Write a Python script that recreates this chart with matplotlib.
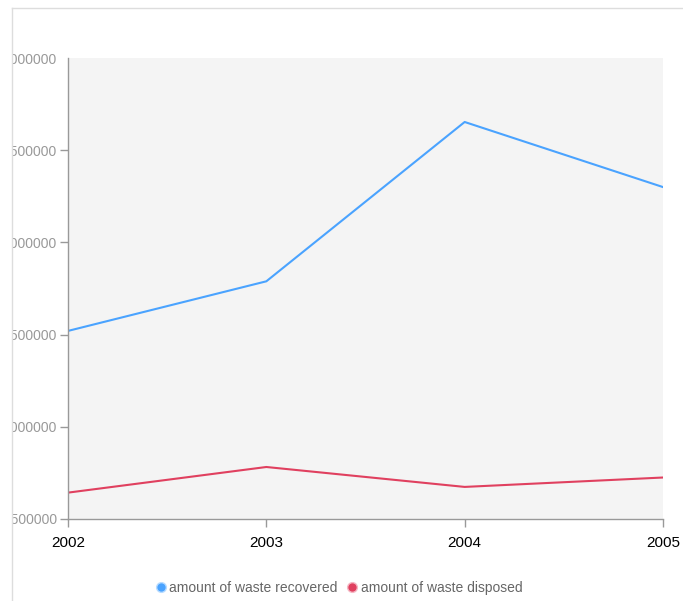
import matplotlib
matplotlib.use('Agg')
import matplotlib.pyplot as plt
from matplotlib.patches import Rectangle
from matplotlib.lines import Line2D

plt.rcParams['font.family'] = ['Liberation Sans Narrow', 'Liberation Sans', 'DejaVu Sans']

years = [2002, 2003, 2004, 2005]
recovered = [2520000, 2789000, 3653000, 3300000]
disposed = [1643000, 1782000, 1674000, 1725000]
y_ticks = [1500000, 2000000, 2500000, 3000000, 3500000, 4000000]

blue = '#4aa3ff'
red = '#e0405f'

fig = plt.figure(figsize=(6.83, 6.01), dpi=100)
ax = fig.add_axes([68 / 683, 1 - 519 / 601, (663 - 68) / 683, (519 - 58) / 601])
ax.set_facecolor('#f4f4f4')

ax.plot(years, recovered, color=blue, linewidth=1.5)
ax.plot(years, disposed, color=red, linewidth=1.5)

ax.set_xlim(2002, 2005)
ax.set_ylim(1500000, 4000000)
ax.set_xticks(years)
ax.set_xticklabels([str(y) for y in years], fontsize=11, color='black')
ax.set_yticks(y_ticks)
ax.set_yticklabels([str(v) for v in y_ticks], fontsize=10, color='#999999')
ax.tick_params(axis='both', colors='#999999', length=6, width=1)
ax.tick_params(axis='x', labelcolor='black', pad=6)
ax.tick_params(axis='y', labelcolor='#999999', pad=2)
# 最上面的刻度没有短线
ax.yaxis.get_major_ticks()[-1].tick1line.set_visible(False)

for s in ['top', 'right']:
    ax.spines[s].set_visible(False)
for s in ['left', 'bottom']:
    ax.spines[s].set_color('#999999')
    ax.spines[s].set_linewidth(1)

# 页面边框遮住左侧的刻度标签
fig.patches.append(Rectangle((0, 0), 12 / 683, 1, transform=fig.transFigure,
                             facecolor='white', edgecolor='none', zorder=10))
fig.add_artist(Line2D([12 / 683, 12 / 683], [0, 1 - 8 / 601], color='#dddddd',
                      linewidth=1, transform=fig.transFigure, zorder=11))
fig.add_artist(Line2D([12 / 683, 1], [1 - 8 / 601, 1 - 8 / 601], color='#dddddd',
                      linewidth=1, transform=fig.transFigure, zorder=11))

handles = [Line2D([], [], linestyle='none', marker='o', markersize=7,
                  markerfacecolor=blue, markeredgecolor='#b8dcff'),
           Line2D([], [], linestyle='none', marker='o', markersize=7,
                  markerfacecolor=red, markeredgecolor='#f5b8c4')]
leg = fig.legend(handles, ['amount of waste recovered', 'amount of waste disposed'],
                 loc='center', bbox_to_anchor=(338 / 683, 1 - 588 / 601), ncol=2,
                 frameon=False, fontsize=10, handletextpad=0.1, columnspacing=0.6,
                 handlelength=1.0)
for t in leg.get_texts():
    t.set_color('#666666')

fig.savefig('out.png', dpi=100)
